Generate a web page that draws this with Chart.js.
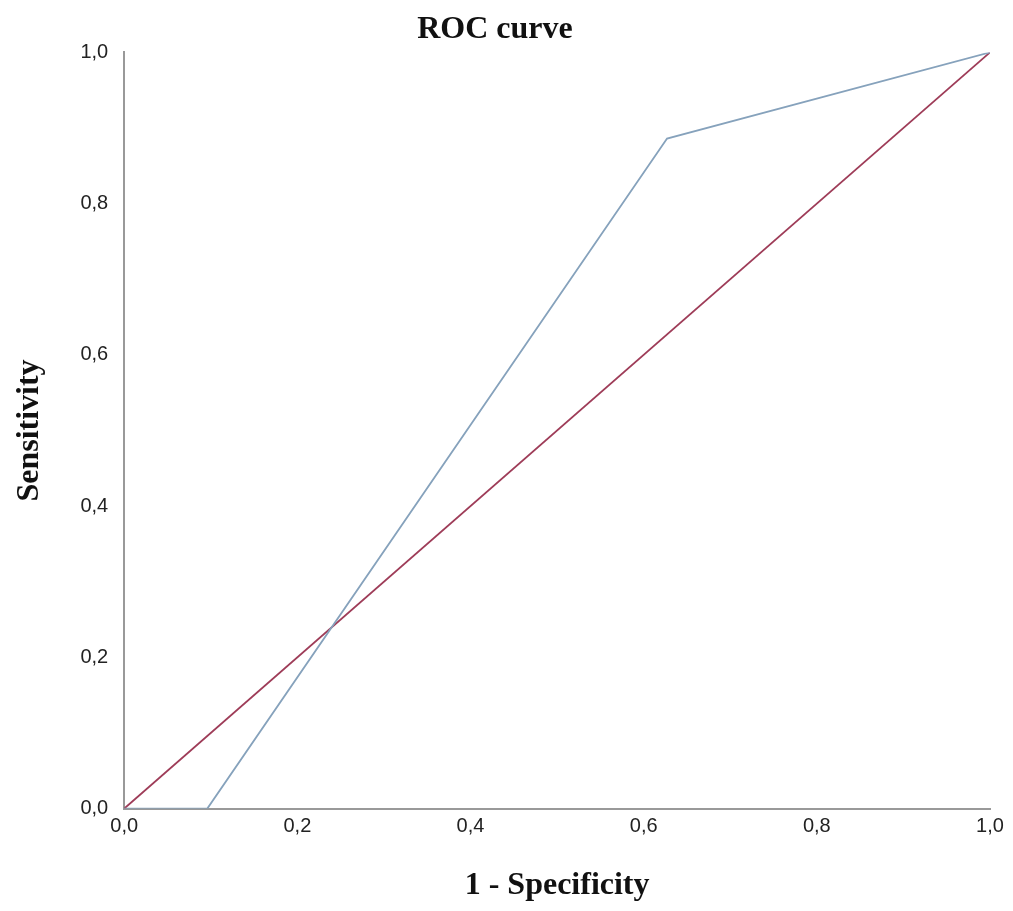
<!DOCTYPE html>
<html>
<head>
<meta charset="utf-8">
<style>
  html, body { margin: 0; padding: 0; background: #fff; }
  #wrap { width: 1013px; height: 911px; }
</style>
<script src="https://cdn.jsdelivr.net/npm/chart.js@4/dist/chart.umd.min.js"></script>
</head>
<body>
<div id="wrap"><canvas id="myChart" width="1013" height="911"></canvas></div>
<script>
// ROC curve values
const rocX = [0, 0.096, 0.627, 1];
const rocY = [0, 0, 0.886, 1];
// reference line
const refX = [0, 1];
const refY = [0, 1];
const tickValues = [0, 0.2, 0.4, 0.6, 0.8, 1.0];

const toPoints = (xs, ys) => xs.map((x, i) => ({ x: x, y: ys[i] }));
const fmt = (v) => v.toFixed(1).replace('.', ',');

const ctx = document.getElementById('myChart').getContext('2d');
const chart = new Chart(ctx, {
    type: 'scatter',
    data: {
        datasets: [{
            label: 'ROC',
            data: toPoints(rocX, rocY),
            showLine: true,
            borderColor: '#86a2bc',
            borderWidth: 1.8,
            pointRadius: 0,
            tension: 0
        }, {
            label: 'Reference',
            data: toPoints(refX, refY),
            showLine: true,
            borderColor: '#9e3c58',
            borderWidth: 1.8,
            pointRadius: 0,
            tension: 0
        }]
    },
    options: {
        responsive: false,
        animation: false,
        layout: { padding: { left: 0, right: 23, top: 0, bottom: 6 } },
        plugins: {
            legend: { display: false },
            tooltip: { enabled: false },
            title: {
                display: true,
                text: 'ROC curve',
                color: '#111',
                font: { family: 'Liberation Serif', size: 32, weight: 'bold' },
                padding: { top: 11, bottom: 3 }
            }
        },
        scales: {
            x: {
                type: 'linear',
                min: 0, max: 1,
                afterBuildTicks: (axis) => { axis.ticks = tickValues.map(v => ({ value: v })); },
                grid: { display: false, drawTicks: false },
                border: { display: true, color: '#999', width: 2 },
                ticks: {
                    padding: 6,
                    color: '#222',
                    font: { family: 'Liberation Sans', size: 20 },
                    callback: (v) => fmt(v)
                },
                title: {
                    display: true,
                    text: '1 - Specificity',
                    color: '#111',
                    font: { family: 'Liberation Serif', size: 32, weight: 'bold' },
                    padding: { top: 22, bottom: 0 }
                }
            },
            y: {
                type: 'linear',
                min: 0, max: 1,
                afterBuildTicks: (axis) => { axis.ticks = tickValues.map(v => ({ value: v })); },
                grid: { display: false, drawTicks: false },
                border: { display: true, color: '#999', width: 2 },
                ticks: {
                    padding: 16,
                    color: '#222',
                    font: { family: 'Liberation Sans', size: 20 },
                    callback: (v) => fmt(v)
                },
                title: {
                    display: true,
                    text: 'Sensitivity',
                    color: '#111',
                    font: { family: 'Liberation Serif', size: 32, weight: 'bold' },
                    padding: { top: 11, bottom: 15 }
                }
            }
        }
    }
});
</script>
</body>
</html>
